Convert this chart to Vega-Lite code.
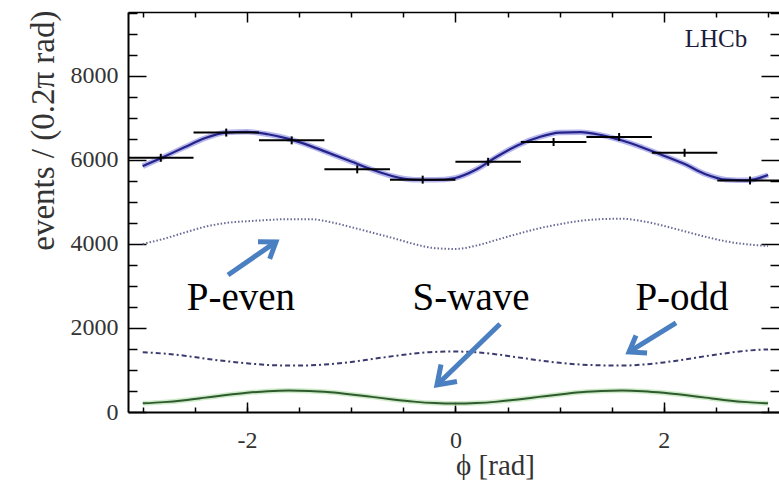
{
  "$schema": "https://vega.github.io/schema/vega-lite/v6.json",
  "width": 651,
  "height": 400,
  "autosize": {"type": "none"},
  "padding": {"left": 128, "top": 12, "right": 0, "bottom": 68},
  "background": "white",
  "config": {
    "view": {"stroke": null},
    "font": "Liberation Serif, serif",
    "text": {"font": "Liberation Serif, serif"},
    "axis": {"grid": false, "domainColor": "black", "tickColor": "black", "labelFont": "Liberation Serif, serif", "titleFont": "Liberation Serif, serif", "labelColor": "#333333", "titleColor": "#333333", "titleFontWeight": "normal"}
  },
  "resolve": {"axis": {"x": "independent", "y": "independent"}},
  "datasets": {
    "curves": [
      {"phi": -3.0, "total": 5850, "peven": 4000, "podd": 1420, "swave": 206},
      {"phi": -2.8, "total": 6070, "peven": 4120, "podd": 1390, "swave": 235},
      {"phi": -2.6, "total": 6300, "peven": 4270, "podd": 1340, "swave": 282},
      {"phi": -2.4, "total": 6520, "peven": 4410, "podd": 1270, "swave": 342},
      {"phi": -2.2, "total": 6650, "peven": 4500, "podd": 1210, "swave": 403},
      {"phi": -2.0, "total": 6670, "peven": 4540, "podd": 1160, "swave": 456},
      {"phi": -1.8, "total": 6610, "peven": 4570, "podd": 1120, "swave": 494},
      {"phi": -1.6, "total": 6500, "peven": 4590, "podd": 1105, "swave": 510},
      {"phi": -1.4, "total": 6340, "peven": 4590, "podd": 1110, "swave": 501},
      {"phi": -1.2, "total": 6150, "peven": 4520, "podd": 1140, "swave": 469},
      {"phi": -1.0, "total": 5960, "peven": 4400, "podd": 1190, "swave": 419},
      {"phi": -0.8, "total": 5770, "peven": 4270, "podd": 1260, "swave": 360},
      {"phi": -0.6, "total": 5610, "peven": 4140, "podd": 1330, "swave": 299},
      {"phi": -0.4, "total": 5530, "peven": 4000, "podd": 1390, "swave": 247},
      {"phi": -0.2, "total": 5525, "peven": 3900, "podd": 1430, "swave": 212},
      {"phi": 0.0, "total": 5570, "peven": 3880, "podd": 1440, "swave": 200},
      {"phi": 0.2, "total": 5770, "peven": 3960, "podd": 1420, "swave": 212},
      {"phi": 0.4, "total": 6080, "peven": 4100, "podd": 1370, "swave": 247},
      {"phi": 0.6, "total": 6350, "peven": 4240, "podd": 1300, "swave": 299},
      {"phi": 0.8, "total": 6540, "peven": 4370, "podd": 1230, "swave": 360},
      {"phi": 1.0, "total": 6650, "peven": 4470, "podd": 1170, "swave": 419},
      {"phi": 1.2, "total": 6660, "peven": 4550, "podd": 1130, "swave": 469},
      {"phi": 1.4, "total": 6590, "peven": 4590, "podd": 1110, "swave": 501},
      {"phi": 1.6, "total": 6460, "peven": 4600, "podd": 1105, "swave": 510},
      {"phi": 1.8, "total": 6290, "peven": 4540, "podd": 1130, "swave": 494},
      {"phi": 2.0, "total": 6100, "peven": 4430, "podd": 1180, "swave": 456},
      {"phi": 2.2, "total": 5900, "peven": 4300, "podd": 1250, "swave": 403},
      {"phi": 2.4, "total": 5660, "peven": 4170, "podd": 1330, "swave": 342},
      {"phi": 2.6, "total": 5530, "peven": 4060, "podd": 1400, "swave": 282},
      {"phi": 2.8, "total": 5515, "peven": 3990, "podd": 1460, "swave": 235},
      {"phi": 3.0, "total": 5640, "peven": 3950, "podd": 1490, "swave": 206}
    ],
    "points": [
      {"phi": -2.827, "lo": -3.142, "hi": -2.513, "events": 6050, "elo": 5955, "ehi": 6145},
      {"phi": -2.199, "lo": -2.513, "hi": -1.885, "events": 6650, "elo": 6555, "ehi": 6745},
      {"phi": -1.571, "lo": -1.885, "hi": -1.257, "events": 6465, "elo": 6370, "ehi": 6560},
      {"phi": -0.942, "lo": -1.257, "hi": -0.628, "events": 5775, "elo": 5680, "ehi": 5870},
      {"phi": -0.314, "lo": -0.628, "hi": 0.0, "events": 5530, "elo": 5435, "ehi": 5625},
      {"phi": 0.314, "lo": 0.0, "hi": 0.628, "events": 5955, "elo": 5860, "ehi": 6050},
      {"phi": 0.942, "lo": 0.628, "hi": 1.257, "events": 6425, "elo": 6330, "ehi": 6520},
      {"phi": 1.571, "lo": 1.257, "hi": 1.885, "events": 6545, "elo": 6450, "ehi": 6640},
      {"phi": 2.199, "lo": 1.885, "hi": 2.513, "events": 6170, "elo": 6075, "ehi": 6265},
      {"phi": 2.827, "lo": 2.513, "hi": 3.142, "events": 5510, "elo": 5415, "ehi": 5605}
    ],
    "arrows": [
      {"seg": "pe_shaft", "ord": 0, "phi": -2.182, "value": 3262},
      {"seg": "pe_shaft", "ord": 1, "phi": -1.722, "value": 4048},
      {"seg": "pe_head", "ord": 0, "phi": -1.782, "value": 3645},
      {"seg": "pe_head", "ord": 1, "phi": -1.722, "value": 4048},
      {"seg": "pe_head", "ord": 2, "phi": -1.894, "value": 4052},
      {"seg": "s_shaft", "ord": 0, "phi": 0.428, "value": 2095},
      {"seg": "s_shaft", "ord": 1, "phi": -0.177, "value": 643},
      {"seg": "s_head", "ord": 0, "phi": 0.015, "value": 726},
      {"seg": "s_head", "ord": 1, "phi": -0.177, "value": 643},
      {"seg": "s_head", "ord": 2, "phi": -0.138, "value": 1131},
      {"seg": "po_shaft", "ord": 0, "phi": 2.117, "value": 2119},
      {"seg": "po_shaft", "ord": 1, "phi": 1.666, "value": 1429},
      {"seg": "po_head", "ord": 0, "phi": 1.839, "value": 1405},
      {"seg": "po_head", "ord": 1, "phi": 1.666, "value": 1429},
      {"seg": "po_head", "ord": 2, "phi": 1.733, "value": 1821}
    ],
    "labels": [
      {"text": "P-even", "phi": -2.058, "value": 2429},
      {"text": "S-wave", "phi": 0.15, "value": 2429},
      {"text": "P-odd", "phi": 2.174, "value": 2429}
    ],
    "tag": [
      {"text": "LHCb", "phi": 2.5, "value": 8690}
    ]
  },
  "layer": [
    {
      "data": {"name": "curves"},
      "mark": {"type": "line", "interpolate": "monotone", "stroke": "#8f8fe2", "strokeWidth": 5.5, "opacity": 0.65},
      "encoding": {
        "x": {"field": "phi", "type": "quantitative", "scale": {"domain": [-3.1416, 3.105], "nice": false, "zero": false},
          "axis": {"orient": "bottom", "values": [-2, 0, 2], "tickSize": -10, "tickWidth": 1.5, "domainWidth": 2, "labelFont": "Liberation Serif, serif", "labelFontSize": 24, "labelPadding": 26, "labelExpr": "'' + datum.value", "title": "ϕ [rad]", "titleFont": "Liberation Serif, serif", "titleFontSize": 29, "titleX": 367, "titleY": 62, "titleAlign": "center", "titleBaseline": "alphabetic"}},
        "y": {"field": "total", "type": "quantitative", "scale": {"domain": [0, 9520], "nice": false, "zero": true},
          "axis": {"orient": "left", "values": [0, 2000, 4000, 6000, 8000], "tickSize": -18, "tickWidth": 1.5, "domainWidth": 2, "labelFont": "Liberation Serif, serif", "labelFontSize": 24, "labelPadding": 28, "labelExpr": "'' + datum.value", "title": "events / (0.2π rad)", "titleFont": "Liberation Serif, serif", "titleFontSize": 33, "titleAngle": -90, "titleX": -75, "titleY": -2, "titleAlign": "right", "titleBaseline": "alphabetic"}}
      }
    },
    {
      "data": {"name": "curves"},
      "mark": {"type": "line", "interpolate": "monotone", "stroke": "#23238a", "strokeWidth": 2.2},
      "encoding": {
        "x": {"field": "phi", "type": "quantitative", "scale": {"domain": [-3.1416, 3.105], "nice": false, "zero": false},
          "axis": {"orient": "bottom", "values": [-3, -2.5, -2, -1.5, -1, -0.5, 0, 0.5, 1, 1.5, 2, 2.5, 3], "tickSize": -5, "tickWidth": 1.5, "labels": false, "domain": false, "title": null}},
        "y": {"field": "total", "type": "quantitative", "scale": {"domain": [0, 9520], "nice": false, "zero": true},
          "axis": {"orient": "left", "values": [500, 1000, 1500, 2500, 3000, 3500, 4500, 5000, 5500, 6500, 7000, 7500, 8500, 9000, 9500], "tickSize": -9, "tickWidth": 1.5, "labels": false, "domain": false, "title": null}}
      }
    },
    {
      "data": {"name": "curves"},
      "mark": {"type": "line", "interpolate": "monotone", "stroke": "#6a6a96", "strokeWidth": 2, "strokeDash": [1.5, 2]},
      "encoding": {
        "x": {"field": "phi", "type": "quantitative", "scale": {"domain": [-3.1416, 3.105], "nice": false, "zero": false},
          "axis": {"orient": "top", "values": [-2, 0, 2], "tickSize": -10, "tickWidth": 1.5, "domainWidth": 1.5, "labels": false, "title": null}},
        "y": {"field": "peven", "type": "quantitative", "scale": {"domain": [0, 9520], "nice": false, "zero": true},
          "axis": {"orient": "right", "values": [0, 2000, 4000, 6000, 8000], "tickSize": -18, "tickWidth": 1.5, "labels": false, "domain": false, "title": null}}
      }
    },
    {
      "data": {"name": "curves"},
      "mark": {"type": "line", "interpolate": "monotone", "stroke": "#3a3a6e", "strokeWidth": 2, "strokeDash": [5, 3, 2, 3]},
      "encoding": {
        "x": {"field": "phi", "type": "quantitative", "scale": {"domain": [-3.1416, 3.105], "nice": false, "zero": false},
          "axis": {"orient": "top", "values": [-3, -2.5, -1.5, -1, -0.5, 0.5, 1, 1.5, 2.5, 3], "tickSize": -5, "tickWidth": 1.5, "labels": false, "domain": false, "title": null}},
        "y": {"field": "podd", "type": "quantitative", "scale": {"domain": [0, 9520], "nice": false, "zero": true},
          "axis": {"orient": "right", "values": [500, 1000, 1500, 2500, 3000, 3500, 4500, 5000, 5500, 6500, 7000, 7500, 8500, 9000, 9500], "tickSize": -9, "tickWidth": 1.5, "labels": false, "domain": false, "title": null}}
      }
    },
    {
      "data": {"name": "curves"},
      "mark": {"type": "line", "interpolate": "monotone", "stroke": "#b9e3b0", "strokeWidth": 5, "opacity": 0.7},
      "encoding": {
        "x": {"field": "phi", "type": "quantitative", "scale": {"domain": [-3.1416, 3.105], "nice": false, "zero": false}, "axis": null},
        "y": {"field": "swave", "type": "quantitative", "scale": {"domain": [0, 9520], "nice": false, "zero": true}, "axis": null}
      }
    },
    {
      "data": {"name": "curves"},
      "mark": {"type": "line", "interpolate": "monotone", "stroke": "#2f5a2f", "strokeWidth": 2},
      "encoding": {
        "x": {"field": "phi", "type": "quantitative", "scale": {"domain": [-3.1416, 3.105], "nice": false, "zero": false}, "axis": null},
        "y": {"field": "swave", "type": "quantitative", "scale": {"domain": [0, 9520], "nice": false, "zero": true}, "axis": null}
      }
    },
    {
      "data": {"name": "points"},
      "mark": {"type": "rule", "stroke": "black", "strokeWidth": 2},
      "encoding": {
        "x": {"field": "lo", "type": "quantitative", "scale": {"domain": [-3.1416, 3.105], "nice": false, "zero": false}, "axis": null},
        "x2": {"field": "hi"},
        "y": {"field": "events", "type": "quantitative", "scale": {"domain": [0, 9520], "nice": false, "zero": true}, "axis": null}
      }
    },
    {
      "data": {"name": "points"},
      "mark": {"type": "rule", "stroke": "black", "strokeWidth": 2},
      "encoding": {
        "x": {"field": "phi", "type": "quantitative", "scale": {"domain": [-3.1416, 3.105], "nice": false, "zero": false}, "axis": null},
        "y": {"field": "elo", "type": "quantitative", "scale": {"domain": [0, 9520], "nice": false, "zero": true}, "axis": null},
        "y2": {"field": "ehi"}
      }
    },
    {
      "data": {"name": "arrows"},
      "mark": {"type": "line", "stroke": "#4a7fc1", "strokeWidth": 5, "strokeJoin": "miter", "strokeCap": "butt"},
      "encoding": {
        "x": {"field": "phi", "type": "quantitative", "scale": {"domain": [-3.1416, 3.105], "nice": false, "zero": false}, "axis": null},
        "y": {"field": "value", "type": "quantitative", "scale": {"domain": [0, 9520], "nice": false, "zero": true}, "axis": null},
        "detail": {"field": "seg", "type": "nominal"},
        "order": {"field": "ord", "type": "quantitative"}
      }
    },
    {
      "data": {"name": "labels"},
      "mark": {"type": "text", "font": "Liberation Serif, serif", "fontSize": 39, "color": "black", "align": "center", "baseline": "alphabetic"},
      "encoding": {
        "x": {"field": "phi", "type": "quantitative", "scale": {"domain": [-3.1416, 3.105], "nice": false, "zero": false}, "axis": null},
        "y": {"field": "value", "type": "quantitative", "scale": {"domain": [0, 9520], "nice": false, "zero": true}, "axis": null},
        "text": {"field": "text"}
      }
    },
    {
      "data": {"name": "tag"},
      "mark": {"type": "text", "font": "Liberation Serif, serif", "fontSize": 25, "color": "#1c1c3c", "align": "center", "baseline": "alphabetic"},
      "encoding": {
        "x": {"field": "phi", "type": "quantitative", "scale": {"domain": [-3.1416, 3.105], "nice": false, "zero": false}, "axis": null},
        "y": {"field": "value", "type": "quantitative", "scale": {"domain": [0, 9520], "nice": false, "zero": true}, "axis": null},
        "text": {"field": "text"}
      }
    }
  ]
}
